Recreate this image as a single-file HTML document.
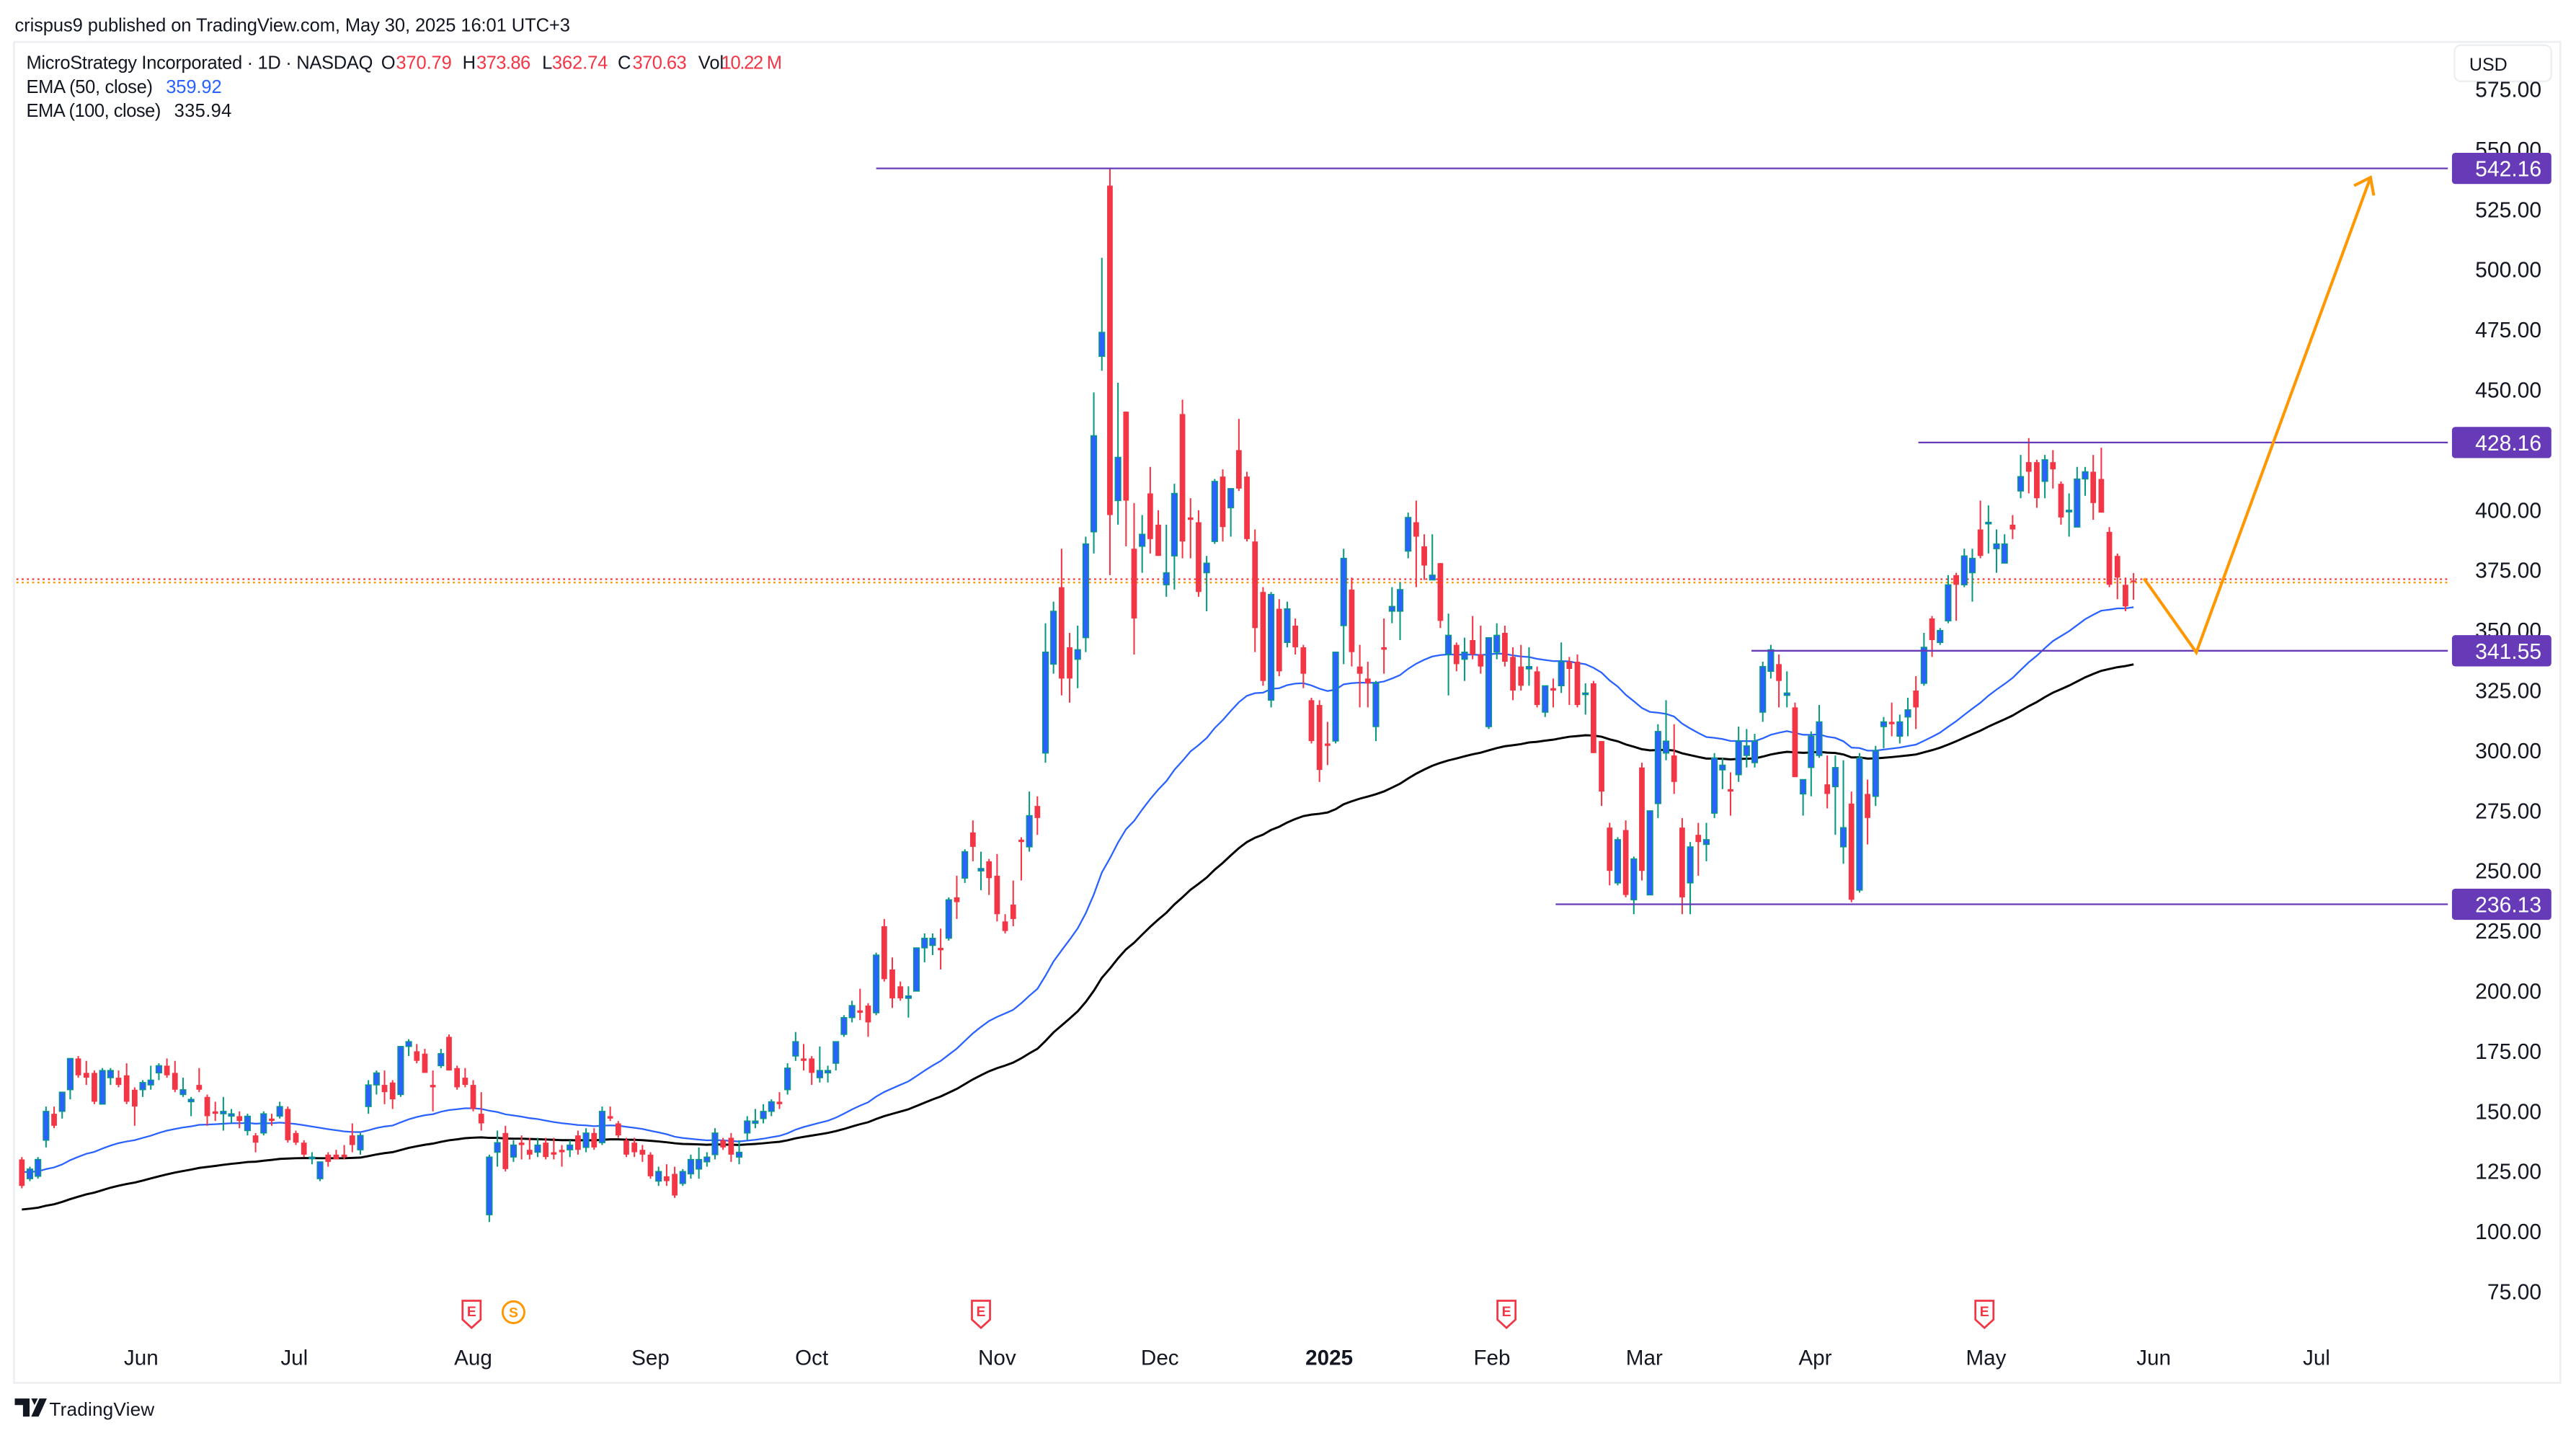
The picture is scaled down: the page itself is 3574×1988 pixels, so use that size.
<!DOCTYPE html>
<html><head><meta charset="utf-8"><title>MSTR chart</title>
<style>
html,body{margin:0;padding:0;background:#fff;}
svg{display:block;font-family:"Liberation Sans",Arial,sans-serif;}
</style></head>
<body>
<svg id="chart" xmlns="http://www.w3.org/2000/svg" width="3574" height="1988" viewBox="0 0 1568 872" preserveAspectRatio="none">
<rect x="0" y="0" width="1568" height="872" fill="#ffffff"/>
<text x="9" y="19" font-size="11.2" fill="#131722" textLength="338">crispus9 published on TradingView.com, May 30, 2025 16:01 UTC+3</text>
<rect x="8.5" y="25.5" width="1550" height="816" fill="none" stroke="#eeeff2" stroke-width="1.2"/>
<g font-size="11.2">
<text x="16" y="42" fill="#131722" textLength="211">MicroStrategy Incorporated · 1D · NASDAQ</text>
<text x="232" y="42" fill="#131722">O</text>
<text x="241" y="42" fill="#f23645" textLength="34">370.79</text>
<text x="281.5" y="42" fill="#131722">H</text>
<text x="290" y="42" fill="#f23645" textLength="33">373.86</text>
<text x="330" y="42" fill="#131722">L</text>
<text x="336" y="42" fill="#f23645" textLength="34">362.74</text>
<text x="376" y="42" fill="#131722">C</text>
<text x="385" y="42" fill="#f23645" textLength="33">370.63</text>
<text x="425" y="42" fill="#131722">Vol</text>
<text x="439" y="42" fill="#f23645" textLength="37">10.22 M</text>
<text x="16" y="56.5" fill="#131722" textLength="77">EMA (50, close)</text>
<text x="101" y="56.5" fill="#2962ff" textLength="34">359.92</text>
<text x="16" y="71" fill="#131722" textLength="82">EMA (100, close)</text>
<text x="106" y="71" fill="#131722" textLength="35">335.94</text>
</g>
<rect x="1494" y="27.5" width="59" height="22" rx="4" fill="#fff" stroke="#eceef2"/>
<text x="1503" y="43" font-size="11" fill="#131722">USD</text>
<g id="yaxis"></g>
<g id="xaxis"></g>
<g id="lines"></g>
<g id="emas"></g>
<g id="candles"></g>
<g id="levels"></g>
<g id="arrow"></g>
<g id="events"></g>
<g>
<path d="M9 851h9v11h-4v-7h-5z M19 851h4l-2 4z M24 851h4.5l-5 11h-4.5z" fill="#131722"/>
<text x="30" y="861.5" font-size="11.5" fill="#131722" textLength="64">TradingView</text>
</g>
</svg>
<script>
const O=[130,122,123,138,149,150,159,172,166,166,153,164,164,165,159,159,161,166,169,166,157,154,161,156,150,149,148,148,142,140,141,147,148,151,141,137,131,122,132,132,132,140,134,152,161,161,162,157,177,175,174,161,169,181,168,164,161,149,107,133,141,131,137,134,133,137,133,134,134,140,135,141,137,148,145,138,137,134,132,121,123,124,120,124,126,129,132,138,139,131,141,145,147,150,154,159,173,172,172,164,166,170,182,189,192,194,191,227,209,202,197,200,218,219,218,222,239,247,266,250,254,248,229,236,263,260,277,299,336,368,343,338,347,391,464,535,404,441,384,385,407,394,369,381,440,397,395,374,387,414,401,425,414,387,366,321,359,345,352,343,321,319,303,304,352,367,335,330,310,343,358,358,383,395,385,371,378,340,344,338,346,340,310,341,349,339,335,334,333,316,326,327,337,337,324,328,304,268,245,267,238,293,240,278,299,298,268,245,265,261,274,292,284,290,298,295,316,333,336,323,318,282,293,298,286,285,260,278,242,282,281,310,312,306,314,325,328,355,345,354,373,369,374,392,395,384,378,394,408,420,420,412,420,411,400,393,413,416,413,391,381,369,370.79];
const H=[131,127,131,152,152,158,172,173,171,167,168,168,167,170,160,163,169,170,172,171,164,156,168,157,154,156,151,150,149,141,150,149,154,152,142,138,133,129,133,134,136,145,141,163,167,167,163,177,180,178,176,167,176,182,169,168,163,158,132,142,144,138,140,139,139,139,139,136,138,142,143,143,152,152,146,139,139,136,133,127,128,127,126,132,135,133,143,139,141,138,148,151,153,155,158,170,183,178,173,177,169,179,190,196,201,195,216,230,214,204,202,218,224,224,226,239,248,259,271,258,255,257,232,246,264,283,281,353,362,384,349,352,389,449,505,542.16,453,441,403,398,418,400,394,411,446,405,400,381,413,417,408,438,416,392,368,366,363,362,355,344,322,321,312,341,384,372,344,337,329,355,368,370,399,404,390,390,378,357,345,347,356,352,347,353,352,343,344,343,335,327,330,345,339,340,328,329,304,270,264,271,256,295,275,311,321,311,272,262,270,270,299,297,291,310,309,307,337,344,340,333,320,288,308,319,298,298,296,283,299,288,302,314,320,315,322,331,349,356,351,373,374,384,384,404,402,392,390,398,423,430,421,423,425,412,407,418,418,423,426,393,382,372,373.86];
const L=[118,121,122,135,143,147,155,164,161,153,153,161,160,153,144,156,159,163,164,158,156,148,158,144,146,142,145,143,140,133,140,144,147,137,136,131,128,121,127,130,130,133,132,149,157,153,151,156,173,170,166,150,168,167,159,160,150,142,104,127,125,129,130,130,131,130,130,127,131,132,133,134,136,146,139,131,131,129,122,119,119,114,119,122,122,127,130,134,129,128,138,143,145,148,151,157,171,167,161,162,162,167,181,187,188,181,190,204,193,196,189,200,212,215,209,221,230,245,254,242,240,229,224,227,246,258,265,295,332,323,320,326,341,382,458,373,394,385,340,374,382,381,364,367,380,380,364,358,386,387,389,408,387,341,327,318,331,343,340,326,303,287,294,303,336,335,318,318,304,332,353,346,380,368,371,371,351,323,333,329,338,332,309,338,335,321,325,327,318,314,318,324,319,318,315,299,277,244,244,239,232,246,240,272,296,282,232,232,248,254,272,284,273,287,293,293,312,330,318,318,289,273,281,297,276,265,253,237,241,261,277,301,306,303,306,309,327,339,344,353,354,368,362,380,382,374,378,388,405,407,401,405,409,394,389,393,406,396,399,368,363,358,362.74];
const C=[119,126,130,150,144,158,172,165,164,154,167,167,161,154,152,162,163,169,165,159,159,155,159,148,149,150,149,146,148,137,149,146,152,138,137,132,131,129,129,130,131,136,140,161,166,158,155,177,179,171,166,160,174,167,160,161,151,145,131,137,126,136,136,132,136,131,132,133,136,134,141,135,150,147,140,132,133,132,123,125,121,115,125,130,130,131,141,135,132,133,146,146,150,154,153,168,179,171,166,167,167,179,189,194,191,187,215,205,197,197,198,218,222,222,217,238,237,258,260,251,247,232,225,230,262,273,272,341,358,330,330,342,386,431,474,398,422,404,355,390,388,381,374,407,387,396,366,378,412,393,409,409,388,351,329,365,333,359,343,332,304,292,302,341,380,341,332,328,328,342,360,367,397,389,377,373,354,348,336,341,340,335,347,348,337,325,327,335,319,327,325,337,334,319,324,299,283,250,263,240,255,250,275,308,304,287,239,260,262,263,297,294,283,304,302,304,335,342,329,324,289,288,306,312,282,293,268,238,297,272,300,312,311,312,317,318,343,346,350,369,369,381,380,381,395,386,386,392,414,416,405,421,417,397,400,413,416,403,399,369,372,360,370.63];
const yTicks=[575,550,525,500,475,450,425,400,375,350,325,300,275,250,225,200,175,150,125,100,75];
const monthLabels=["Jun","Jul","Aug","Sep","Oct","Nov","Dec","2025","Feb","Mar","Apr","May","Jun","Jul"];
const monthBars=[14.8,33.8,56,78,98,121,141.2,162.2,182.4,201.3,222.5,243.7,264.5,284.7];
const levelPrices=[542.16,428.16,341.55,236.13];
const levelLabels=["542.16","428.16","341.55","236.13"];
const levelStartBars=[106,235.3,214.6,190.3];
const arrowBars=[263.3,269.8,291.4];
const arrowPrices=[371.6,340.9,538.4];
const earningsBars=[55.8,119,184.2,243.5];
const splitBars=[61];
const ema50Seed=125, ema100Seed=109;
const lastPrice=370.63;

const NS="http://www.w3.org/2000/svg";
function yS(p){return 91+(550-p)*1.4632;}
function xS(i){return 13.3+4.906*i;}
function mk(tag,attrs,parent){const e=document.createElementNS(NS,tag);for(const k in attrs)e.setAttribute(k,attrs[k]);parent.appendChild(e);return e;}

const gy=document.getElementById('yaxis');
yTicks.forEach(v=>{
  const t=mk('text',{x:1547,y:yS(v)+4.6,'font-size':13.2,fill:'#131722','text-anchor':'end'},gy);
  
  
  t.textContent=v.toFixed(2);
});
const gx=document.getElementById('xaxis');
monthLabels.forEach((m,k)=>{
  const t=mk('text',{x:xS(monthBars[k]),y:830.5,'font-size':13,fill:'#131722','text-anchor':'middle','font-weight':m==='2025'?'bold':'normal'},gx);
  
  
  t.textContent=m;
});

const gl=document.getElementById('lines');
const rl=mk('line',{x1:10,x2:1490,y1:yS(lastPrice)-1,y2:yS(lastPrice)-1,stroke:'#f23645','stroke-width':1,'stroke-dasharray':'1.2 2'},gl);


const ol=mk('line',{x1:10,x2:1490,y1:yS(lastPrice)+1,y2:yS(lastPrice)+1,stroke:'#ff9800','stroke-width':1,'stroke-dasharray':'1.2 2'},gl);



function ema(seed,n){const k=2/(n+1);let e=seed;return C.map(c=>{e=e+k*(c-e);return e;});}
const ge=document.getElementById('emas');
const e100=ema(ema100Seed,100), e50=ema(ema50Seed,50);
const p100=mk('polyline',{points:e100.map((v,i)=>xS(i).toFixed(1)+','+yS(v).toFixed(1)).join(' '),fill:'none',stroke:'#000','stroke-width':1.3},ge);


const p50=mk('polyline',{points:e50.map((v,i)=>xS(i).toFixed(1)+','+yS(v).toFixed(1)).join(' '),fill:'none',stroke:'#2962ff','stroke-width':1},ge);



const gc=document.getElementById('candles');
C.forEach((c,i)=>{
  const o=O[i],up=c>=o,x=xS(i);
  const col=up?'#089981':'#f23645';
  const w=mk('line',{x1:x,x2:x,y1:yS(H[i]),y2:yS(L[i]),stroke:col,'stroke-width':0.9},gc);
  
  
  const top=yS(Math.max(o,c)),bot=yS(Math.min(o,c));
  const b=mk('rect',{x:x-1.7,y:top,width:3.4,height:Math.max(bot-top,1),fill:up?'#2962ff':'#f23645',stroke:up?'#089981':'none','stroke-width':0.6},gc);
  
  
});

const gv=document.getElementById('levels');
levelPrices.forEach((p,k)=>{
  const y=yS(p);
  const ln=mk('line',{x1:xS(levelStartBars[k]),x2:1490,y1:y,y2:y,stroke:'#673ab7','stroke-width':1},gv);
  
  
  const r=mk('rect',{x:1492.5,y:y-9.5,width:60.5,height:19,rx:2,fill:'#673ab7'},gv);
  
  
  const t=mk('text',{x:1547,y:y+4.8,'font-size':13.2,fill:'#fff','text-anchor':'end'},gv);
  
  
  t.textContent=levelLabels[k];
});

const ga=document.getElementById('arrow');
const ap=mk('polyline',{points:arrowBars.map((b,k)=>xS(b).toFixed(1)+','+yS(arrowPrices[k]).toFixed(1)).join(' '),fill:'none',stroke:'#ff9800','stroke-width':1.8},ga);


const tx=xS(arrowBars[2]),ty=yS(arrowPrices[2]);
const ah=mk('polyline',{points:(tx-10)+','+(ty+5)+' '+tx+','+ty+' '+(tx+2)+','+(ty+11),fill:'none',stroke:'#ff9800','stroke-width':1.8},ga);



const gev=document.getElementById('events');
earningsBars.forEach(b=>{
  const x=xS(b);
  const s=mk('path',{d:`M${x-5.5} 791.5h11v11.5l-5.5 5l-5.5 -5z`,fill:'#fff',stroke:'#f23645','stroke-width':1.2},gev);
  
  
  const t=mk('text',{x:x,y:801,'font-size':8.5,'font-weight':'bold',fill:'#f23645','text-anchor':'middle'},gev);
  
  
  t.textContent='E';
});
splitBars.forEach(b=>{
  const x=xS(b);
  const c=mk('circle',{cx:x,cy:798.5,r:6.6,fill:'#fff',stroke:'#ff9800','stroke-width':1.3},gev);
  
  
  const t=mk('text',{x:x,y:801.5,'font-size':8.5,'font-weight':'bold',fill:'#ff9800','text-anchor':'middle'},gev);
  
  
  t.textContent='S';
});
</script>
</body></html>
